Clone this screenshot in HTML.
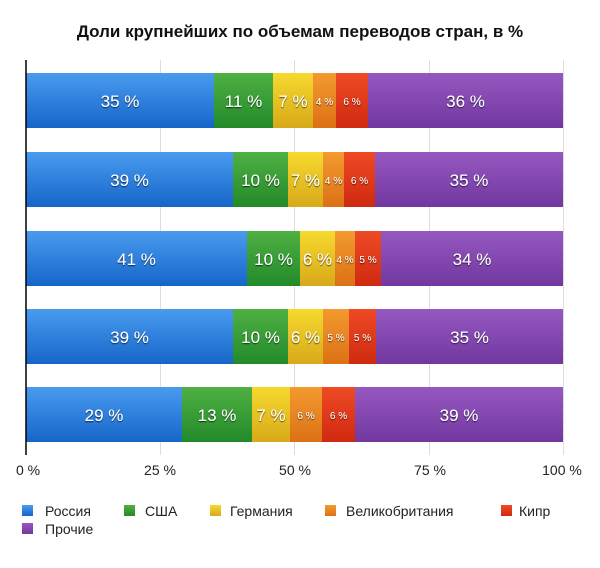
<!DOCTYPE html>
<html><head><meta charset="utf-8"><style>
body{margin:0;background:#fff;width:600px;height:563px;overflow:hidden}
text{font-family:"Liberation Sans",sans-serif}
</style></head><body>
<svg width="600" height="563" xmlns="http://www.w3.org/2000/svg">
<defs>
<linearGradient id="b" x1="0" y1="0" x2="0" y2="1"><stop offset="0" stop-color="#4a9bef"/><stop offset="1" stop-color="#1566c9"/></linearGradient>
<linearGradient id="g" x1="0" y1="0" x2="0" y2="1"><stop offset="0" stop-color="#4fb043"/><stop offset="1" stop-color="#238a2a"/></linearGradient>
<linearGradient id="y" x1="0" y1="0" x2="0" y2="1"><stop offset="0" stop-color="#f6d92e"/><stop offset="1" stop-color="#d8a91a"/></linearGradient>
<linearGradient id="o" x1="0" y1="0" x2="0" y2="1"><stop offset="0" stop-color="#f39a30"/><stop offset="1" stop-color="#dc7115"/></linearGradient>
<linearGradient id="r" x1="0" y1="0" x2="0" y2="1"><stop offset="0" stop-color="#ef4a25"/><stop offset="1" stop-color="#cf2a10"/></linearGradient>
<linearGradient id="p" x1="0" y1="0" x2="0" y2="1"><stop offset="0" stop-color="#9558c0"/><stop offset="1" stop-color="#7238a0"/></linearGradient>
<filter id="s"><feDropShadow dx="0" dy="1" stdDeviation="0.6" flood-color="#000" flood-opacity="0.7"/></filter>
</defs>
<text x="300" y="37" text-anchor="middle" font-size="17" font-weight="bold" fill="#111">Доли крупнейших по объемам переводов стран, в %</text>
<g stroke="#ddd" stroke-width="1">
<line x1="160.5" y1="60" x2="160.5" y2="455"/><line x1="294.5" y1="60" x2="294.5" y2="455"/><line x1="429.5" y1="60" x2="429.5" y2="455"/><line x1="563.5" y1="60" x2="563.5" y2="455"/>
</g>
<g id="bars"></g>
<line x1="26" y1="60" x2="26" y2="455" stroke="#000" stroke-width="1.5"/>
<g font-size="14" fill="#222" text-anchor="middle">
<text x="28" y="475">0 %</text><text x="160" y="475">25 %</text><text x="295" y="475">50 %</text><text x="430" y="475">75 %</text><text x="562" y="475">100 %</text>
</g>
<g font-size="14" fill="#222">
<rect x="22" y="505" width="11" height="11" fill="url(#b)"/><text x="45" y="516">Россия</text>
<rect x="124" y="505" width="11" height="11" fill="url(#g)"/><text x="145" y="516">США</text>
<rect x="210" y="505" width="11" height="11" fill="url(#y)"/><text x="230" y="516">Германия</text>
<rect x="325" y="505" width="11" height="11" fill="url(#o)"/><text x="346" y="516">Великобритания</text>
<rect x="501" y="505" width="11" height="11" fill="url(#r)"/><text x="519" y="516">Кипр</text>
<rect x="22" y="523" width="11" height="11" fill="url(#p)"/><text x="45" y="534">Прочие</text>
</g>
<script>
var rows=[[73,[214,273,313,336,368],["35 %","11 %","7 %","4 %","6 %","36 %"]],
[152,[233,288,323,344,375],["39 %","10 %","7 %","4 %","6 %","35 %"]],
[231,[247,300,335,355,381],["41 %","10 %","6 %","4 %","5 %","34 %"]],
[309,[233,288,323,349,376],["39 %","10 %","6 %","5 %","5 %","35 %"]],
[387,[182,252,290,322,355],["29 %","13 %","7 %","6 %","6 %","39 %"]]];
var f=["b","g","y","o","r","p"],ns="http://www.w3.org/2000/svg",G=document.getElementById("bars");
rows.forEach(function(r){var xs=[26].concat(r[1],[563]);
for(var i=0;i<6;i++){var a=xs[i],b=xs[i+1];var e=document.createElementNS(ns,"rect");
e.setAttribute("x",a);e.setAttribute("y",r[0]);e.setAttribute("width",b-a);e.setAttribute("height",55);e.setAttribute("fill","url(#"+f[i]+")");G.appendChild(e);
var t=document.createElementNS(ns,"text");var sm=(i==3||i==4);t.setAttribute("x",(a+b)/2);t.setAttribute("y",r[0]+(sm?32:34));t.setAttribute("text-anchor","middle");t.setAttribute("font-size",sm?10:17);t.setAttribute("fill","#fff");t.setAttribute("filter","url(#s)");t.textContent=r[2][i];G.appendChild(t);}});
</script>
</svg>
</body></html>
